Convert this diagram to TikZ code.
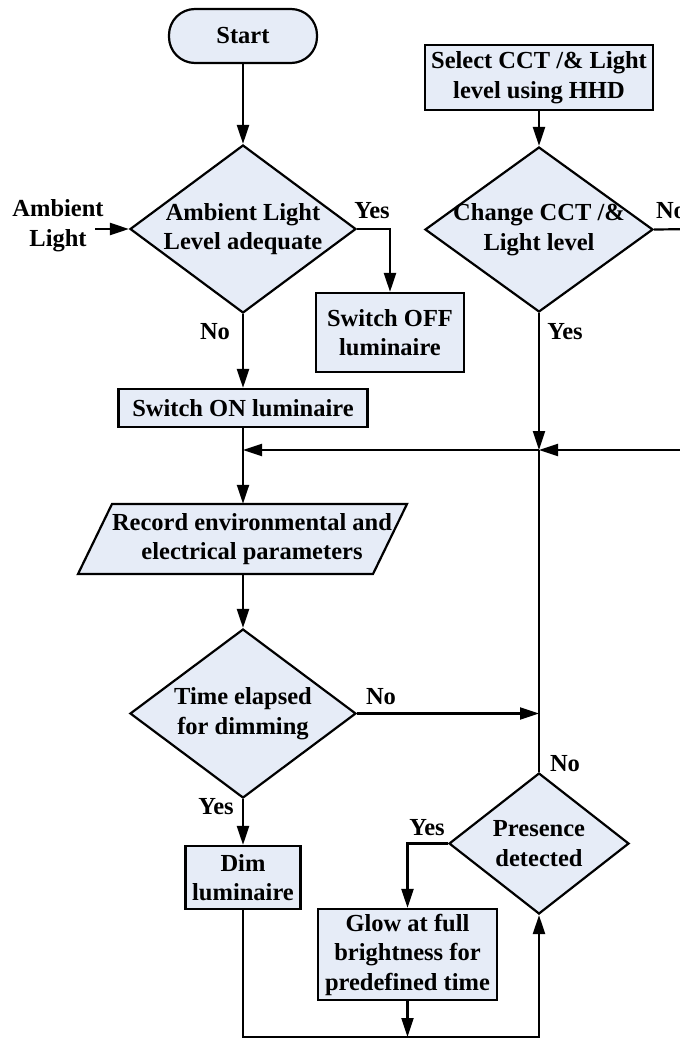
\documentclass[tikz,border=0pt]{standalone}
\usepackage{fontspec}
\setmainfont{Liberation Serif}
\usetikzlibrary{arrows.meta,shapes.geometric}
\definecolor{boxfill}{RGB}{230,236,247}
\begin{document}
\begin{tikzpicture}[x=1pt,y=-1pt,
  every node/.style={font=\fontsize{24.5}{29.5}\selectfont\bfseries},
  box/.style={draw, fill=boxfill, line width=2.2pt, inner sep=0pt, align=center},
  dia/.style={diamond, draw, fill=boxfill, line width=2.2pt, inner sep=0pt},
  shp/.style={draw, fill=boxfill, line width=2.2pt},
  lbl/.style={inner sep=0pt, align=center},
  arr/.style={-{Triangle[length=19pt,width=12pt]}, line width=2.2pt},
  ln/.style={line width=2.2pt}]
\useasboundingbox (0,0) rectangle (680,1039);
\clip (0,0) rectangle (680,1039);

% left column
\node[box, rounded corners=26pt, minimum width=148pt, minimum height=54pt] (start) at (243,36) {Start};
\node[dia, minimum width=226pt, minimum height=168pt,
  label={[lbl]center:Ambient Light\\Level adequate}] (d1) at (243,229) {};
\node[lbl] (amb) at (58,225.5) {Ambient\\Light};
\coordinate (ambin) at (95,229);
\node[box, minimum width=148pt, minimum height=79pt] (soff) at (390,332.5) {Switch OFF\\luminaire};
\node[box, minimum width=249pt, minimum height=38pt] (son) at (243,408) {Switch ON luminaire};
\draw[shp] (112,504) -- (407,504) -- (373,574) -- (78,574) -- cycle;
\node[lbl, minimum height=70pt] (rec) at (252,539) {Record environmental and\\electrical parameters};
\node[dia, minimum width=226pt, minimum height=169pt,
  label={[lbl]center:Time elapsed\\for dimming}] (d2) at (243,713.5) {};
\node[box, minimum width=115pt, minimum height=63pt] (dim) at (243,877.5) {Dim\\luminaire};

% right column
\node[box, minimum width=228pt, minimum height=65pt] (sel) at (539,77.5) {Select CCT /\& Light\\level using HHD};
\node[dia, minimum width=228pt, minimum height=165pt,
  label={[lbl]center:Change CCT /\&\\Light level}] (d3) at (539,229.5) {};
\node[dia, minimum width=180pt, minimum height=141pt,
  label={[lbl]center:Presence\\detected}] (pres) at (539,843.5) {};
\node[box, minimum width=179pt, minimum height=91pt] (glow) at (407.5,954.5) {Glow at full\\brightness for\\predefined time};

\coordinate (junc) at (539,450);
\coordinate (bot) at (407.5,1037);
\coordinate (edgeA) at (700,229);
\coordinate (edgeB) at (700,450);

% connectors
\draw[arr] (start.south) -- (d1.north);
\draw[arr] (ambin) -- (d1.west);
\draw[arr] (d1.east) -| (soff.north);
\draw[arr] (d1.south) -- (son.north);
\draw[arr] (son.south) -- (son.south |- rec.north);
\draw[arr] (junc) -- (son.south |- junc);
\draw[arr] (d2.north |- rec.south) -- (d2.north);
\draw[arr] (d2.east) -- (d2.east -| junc);
\draw[arr] (d2.south) -- (dim.north);
\draw[arr] (dim.south) -- (dim.south |- bot) -| (pres.south);
\draw[arr] (glow.south) -- (bot);
\draw[arr] (pres.west) -| (glow.north);
\draw[ln] (pres.north) -- (junc);
\draw[arr] (sel.south) -- (d3.north);
\draw[arr] (d3.south) -- (junc);
\draw[ln] (d3.east) -- (edgeA);
\draw[arr] (edgeB) -- (junc);

% branch labels
\node[lbl] (l1) at (372,211) {Yes};
\node[lbl] (l2) at (215,332) {No};
\node[lbl] (l3) at (671,211) {No};
\node[lbl] (l4) at (565,332) {Yes};
\node[lbl] (l5) at (381,697) {No};
\node[lbl] (l6) at (216,807) {Yes};
\node[lbl] (l7) at (565,764) {No};
\node[lbl] (l8) at (427,828) {Yes};
\end{tikzpicture}
\end{document}
